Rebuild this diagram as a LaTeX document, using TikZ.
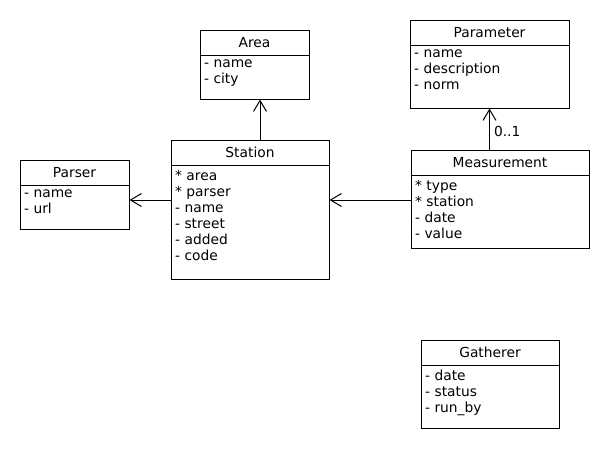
\documentclass[tikz,border=0pt]{standalone}
\usepackage{fontspec}
\setmainfont{DejaVu Sans}
\usetikzlibrary{arrows.meta,calc}
\begin{document}
\begin{tikzpicture}[x=1pt,y=-1pt,
  box/.style={draw,line width=1pt,inner sep=0pt},
  ttl/.style={font=\fontsize{13.8}{16}\selectfont,inner sep=0pt,anchor=center},
  attrs/.style={font=\fontsize{13.8}{16}\selectfont,inner sep=0pt,anchor=north west,align=left},
  conn/.style={line width=1pt,-{Straight Barb[length=11pt,width=13pt,line width=1pt]}},
  lbl/.style={font=\fontsize{13.8}{16}\selectfont,inner sep=0pt}]
\useasboundingbox (0,0) rectangle (610,450);
% classes
\newcommand{\umlclass}[8]{%
  % #1 name, #2 x1, #3 y1, #4 x2, #5 y2, #6 title, #7 attributes, #8 divider y
  \node[box,minimum width={#4-#2},minimum height={#5-#3}] (#1) at ({(#2+#4)/2},{(#3+#5)/2}) {};
  \node[ttl] (#1-t) at ({(#2+#4)/2},{(#3+#8)/2}) {#6};
  \draw[line width=1pt] (#1.west |- 0,#8) -- (#1.east |- 0,#8);
  \node[attrs] (#1-a) at ({#2+4},{#8+5}) {#7};
}
\umlclass{area}{200}{30}{309}{99}{Area}{- name\\- city}{55}
\umlclass{station}{171}{140}{329}{279}{Station}{* area\\* parser\\- name\\- street\\- added\\- code}{165}
\umlclass{parameter}{410}{20}{569}{108}{Parameter}{- name\\- description\\- norm}{45}
\umlclass{measurement}{411}{150}{589}{248}{Measurement}{* type\\* station\\- date\\- value}{175}
\umlclass{parser}{20}{160}{129}{229}{Parser}{- name\\- url}{185}
\umlclass{gatherer}{421}{340}{559}{428}{Gatherer}{- date\\- status\\- run\_by}{365}
% connectors
\draw[conn] ([xshift=10pt]station.north) -- ([xshift=10pt]station.north |- area.south);
\draw[conn] (measurement.west |- 0,200) -- (station.east |- 0,200);
\draw[conn] (station.west |- 0,200) -- (parser.east |- 0,200);
\draw[conn] (measurement.north -| parameter.south) -- (parameter.south)
  node[lbl,pos=0.45,anchor=west,xshift=4pt] {0..1};
\end{tikzpicture}
\end{document}
